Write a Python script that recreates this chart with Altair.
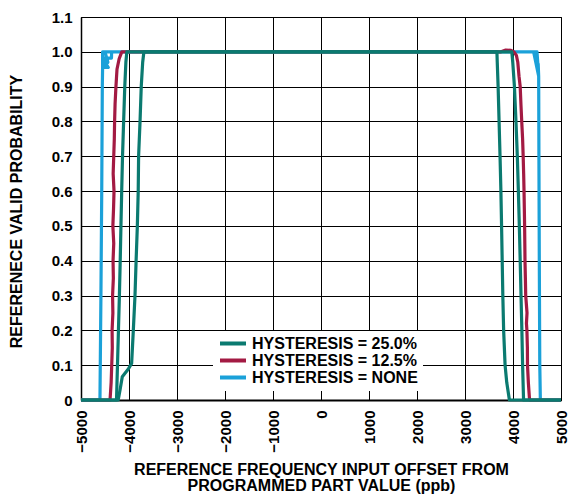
import altair as alt
import pandas as pd

SERIES = ["HYSTERESIS = 25.0%", "HYSTERESIS = 12.5%", "HYSTERESIS = NONE"]
COLORS = ["#0b7a70", "#a31a43", "#1ba1d9"]

X_TICKS = [-5000, -4000, -3000, -2000, -1000, 0, 1000, 2000, 3000, 4000, 5000]
Y_TICKS = [0, 0.1, 0.2, 0.3, 0.4, 0.5, 0.6, 0.7, 0.8, 0.9, 1.0, 1.1]

# ---- HYSTERESIS = 25.0%, sweep A ----
T25A_LEFT_Y = [0.0, 0.03, 0.067, 0.09, 0.105, 0.2, 0.3, 0.4, 0.5, 0.6, 0.7, 0.8, 0.9, 0.97, 1.0]
T25A_LEFT_X = [-4225, -4185, -4140, -4010, -3945, -3910, -3875, -3852, -3826, -3808, -3800, -3770, -3745, -3715, -3690]
T25A_RIGHT_Y = [1.0, 0.97, 0.9, 0.8, 0.7, 0.6, 0.5, 0.4, 0.3, 0.2, 0.1, 0.05, 0.0]
T25A_RIGHT_X = [3665, 3672, 3690, 3710, 3730, 3748, 3762, 3775, 3788, 3805, 3835, 3870, 3925]

# ---- HYSTERESIS = 25.0%, sweep B ----
T25B_LEFT_Y = [0.0, 0.1, 0.2, 0.3, 0.4, 0.5, 0.6, 0.7, 0.8, 0.9, 0.97, 1.0]
T25B_LEFT_X = [-4260, -4240, -4220, -4200, -4183, -4168, -4152, -4135, -4112, -4088, -4065, -4045]
T25B_RIGHT_Y = [1.0, 0.97, 0.9, 0.8, 0.7, 0.6, 0.5, 0.4, 0.3, 0.2, 0.1, 0.0]
T25B_RIGHT_X = [3975, 3995, 4030, 4062, 4090, 4112, 4132, 4150, 4167, 4185, 4200, 4220]

# ---- HYSTERESIS = 12.5% ----
T12_LEFT_Y = [0.0, 0.05, 0.1, 0.15, 0.2, 0.25, 0.3, 0.35, 0.4, 0.45, 0.5, 0.55,
              0.6, 0.65, 0.7, 0.75, 0.8, 0.85, 0.9, 0.95, 0.98, 1.0]
T12_LEFT_X = [-4395, -4372, -4360, -4348, -4352, -4336, -4342, -4326, -4332, -4318, -4336, -4322,
              -4312, -4330, -4318, -4306, -4300, -4290, -4272, -4250, -4205, -4150]
T12_RIGHT_Y = [1.0, 1.005, 1.004, 1.0, 0.99, 0.97, 0.93, 0.9, 0.85, 0.8, 0.75, 0.7, 0.65, 0.6,
               0.55, 0.5, 0.45, 0.4, 0.35, 0.3, 0.25, 0.22, 0.2, 0.15, 0.1, 0.05, 0.0]
T12_RIGHT_X = [3750, 3850, 3960, 4020, 4070, 4100, 4125, 4150, 4165, 4182, 4200, 4212, 4222, 4230,
               4236, 4242, 4246, 4250, 4258, 4265, 4292, 4280, 4290, 4300, 4302, 4320, 4345]

# ---- HYSTERESIS = NONE ----
T0_LEFT_Y = [0.0, 0.3, 0.6, 0.9, 0.955, 1.0, 1.0, 0.982, 0.982, 0.955, 0.955, 0.97, 1.0]
T0_LEFT_X = [-4605, -4585, -4568, -4556, -4550, -4550, -4362, -4365, -4548, -4432, -4548, -4440, -4500]
T0_RIGHT_Y = [1.0, 1.0, 0.93, 1.0, 0.965, 0.93, 0.7, 0.4, 0.1, 0.0]
T0_RIGHT_X = [4360, 4500, 4535, 4430, 4525, 4535, 4540, 4548, 4558, 4570]

PATHS = [
    (SERIES[2], "none", T0_LEFT_X, T0_LEFT_Y, T0_RIGHT_X, T0_RIGHT_Y),
    (SERIES[1], "h12", T12_LEFT_X, T12_LEFT_Y, T12_RIGHT_X, T12_RIGHT_Y),
    (SERIES[0], "h25a", T25A_LEFT_X, T25A_LEFT_Y, T25A_RIGHT_X, T25A_RIGHT_Y),
    (SERIES[0], "h25b", T25B_LEFT_X, T25B_LEFT_Y, T25B_RIGHT_X, T25B_RIGHT_Y),
]

rows = []
for series, pid, lx, ly, rx, ry in PATHS:
    xs = [X_TICKS[0]] + lx + rx + [X_TICKS[-1]]
    ys = [0.0] + ly + ry + [0.0]
    for i, (xv, yv) in enumerate(zip(xs, ys)):
        rows.append({"series": series, "path": pid, "x": xv, "y": yv, "order": i})
df = pd.DataFrame(rows)

FONT = "Liberation Sans"

color = alt.Color(
    "series:N",
    scale=alt.Scale(domain=SERIES, range=COLORS),
    legend=alt.Legend(
        title=None,
        orient="none",
        legendX=132,
        legendY=314,
        fillColor="white",
        padding=5,
        symbolType="stroke",
        symbolSize=676,
        symbolStrokeWidth=4,
        clipHeight=15,
        rowPadding=0,
        labelOffset=4,
        labelFont=FONT,
        labelFontWeight="bold",
        labelFontSize=16,
        labelColor="black",
        labelLimit=300,
    ),
)

x_enc = alt.X(
    "x:Q",
    scale=alt.Scale(domain=[-5000, 5000], nice=False, zero=False),
    axis=alt.Axis(
        values=X_TICKS,
        format="d",
        title=["REFERENCE FREQUENCY INPUT OFFSET FROM", "PROGRAMMED PART VALUE (ppb)"],
        labelAngle=270,
        labelFont=FONT,
        labelFontWeight="bold",
        labelFontSize=15,
        labelColor="black",
        labelPadding=10,
        ticks=False,
        grid=True,
        gridColor="black",
        gridWidth=1,
        gridOpacity=1,
        domainColor="black",
        domainWidth=2,
        titleFont=FONT,
        titleFontWeight="bold",
        titleFontSize=16,
        titleColor="black",
        titleLineHeight=16,
        titleBaseline="top",
        titleY=61,
        labelFlush=False,
        labelOverlap=False,
    ),
)

y_enc = alt.Y(
    "y:Q",
    scale=alt.Scale(domain=[0, 1.1], nice=False),
    axis=alt.Axis(
        values=Y_TICKS,
        labelExpr="datum.value == 0 ? '0' : format(datum.value, '.1f')",
        title="REFERENECE VALID PROBABILITY",
        labelFont=FONT,
        labelFontWeight="bold",
        labelFontSize=15,
        labelColor="black",
        labelPadding=9,
        ticks=False,
        grid=True,
        gridColor="black",
        gridWidth=1,
        gridOpacity=1,
        domainColor="black",
        domainWidth=1.5,
        titleFont=FONT,
        titleFontWeight="bold",
        titleFontSize=16,
        titleColor="black",
        titleAngle=270,
        titleAlign="center",
        titleBaseline="middle",
        titleX=-65,
        titleY=194,
        labelFlush=False,
        labelOverlap=False,
    ),
)

base = alt.Chart(df).mark_line(strokeWidth=3.2, clip=False, strokeJoin="round").encode(
    x=x_enc, y=y_enc, color=color, detail="path:N", order="order:Q"
)

layers = [
    base.transform_filter(alt.datum.series == SERIES[2]),
    base.transform_filter(alt.datum.series == SERIES[1]),
    base.transform_filter(alt.datum.series == SERIES[0]),
]

chart = alt.layer(*layers).properties(
    width=480,
    height=383,
    padding={"left": 81, "top": 17, "right": 10, "bottom": 95},
    autosize=alt.AutoSizeParams(type="none"),
    background="white",
).configure_view(stroke="black", strokeWidth=1)

chart.save("out.html", embed_options={"renderer": "svg", "actions": False})
